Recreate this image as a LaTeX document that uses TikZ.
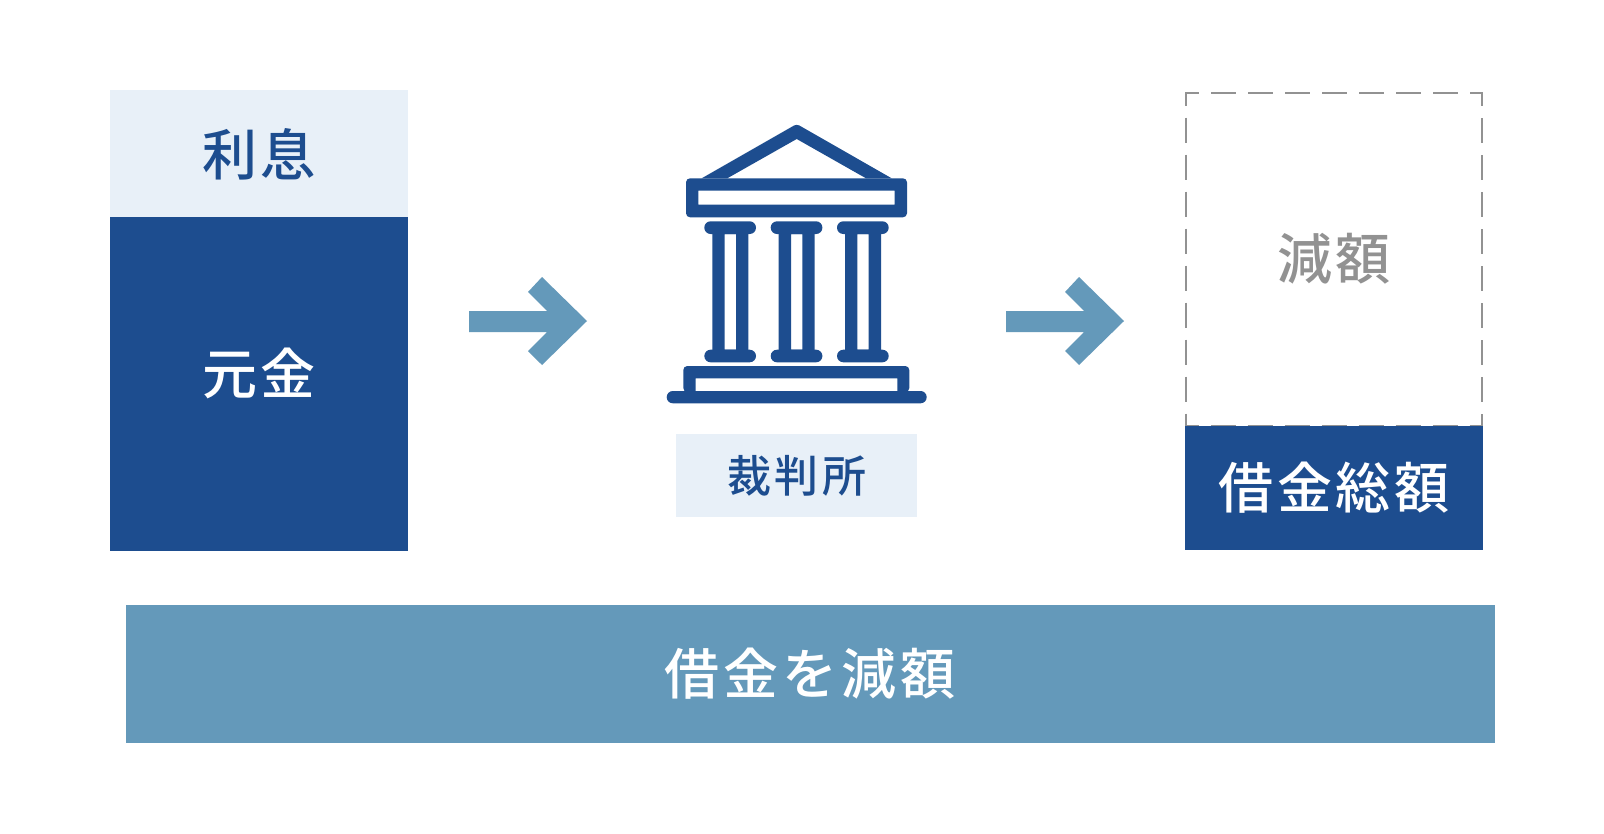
\documentclass[tikz,border=0pt]{standalone}
\usepackage{fontspec}
\setmainfont{Noto Sans CJK JP Medium}
\definecolor{navy}{HTML}{1D4D8F}
\definecolor{pale}{HTML}{E8F0F8}
\definecolor{steel}{HTML}{6499BA}
\definecolor{ash}{HTML}{929292}
\tikzset{
  box/.style={rectangle,inner sep=0pt,outer sep=0pt,anchor=north west,draw=none},
  txt/.style={inner sep=0pt,outer sep=0pt,anchor=center},
  icon/.style={fill=navy,draw=none,even odd rule},
  arrowshape/.style={fill=steel,draw=none},
}
\newcommand{\spaced}[3]{\fontsize{#1}{#1}\selectfont\addfontfeatures{LetterSpace=#2}#3}
\begin{document}
\begin{tikzpicture}[x=1pt,y=-1pt]
\useasboundingbox (0,0) rectangle (1604,833);
\fill[white] (0,0) rectangle (1604,833);
% left stack
\node[box,fill=pale,minimum width=298pt,minimum height=127pt] (interest) at (110,90) {};
\node[box,fill=navy,minimum width=298pt,minimum height=334pt] (principal) at (110,217) {};
\node[txt,text=navy] (interestT) at (259,154) {\spaced{55}{7}{利息}};
\node[txt,text=white] (principalT) at (259,373) {\spaced{55}{7}{元金}};
% arrows
\foreach \dx in {0,537}{
\begin{scope}[xshift=\dx pt]
\fill[arrowshape] (469,311) -- (547,311) -- (528,292) -- (542,277) -- (587,321) -- (542,365) -- (528,351) -- (547,332) -- (469,332) -- cycle;
\end{scope}}
% court icon: roof
\fill[icon] (701.7,178.3) [rounded corners=3pt] -- (796.7,124) [sharp corners] -- (891.7,178.3) -- (866,178.3) -- (796.7,139) -- (727.3,178.3) -- cycle;
% entablature
\fill[icon] [rounded corners=4pt] (686,178.3) rectangle (907,217.3)
  [sharp corners] (698.3,190.7) rectangle (894.7,204.7);
% columns
\foreach \dx in {0,66.4,132.7}{
\begin{scope}[xshift=\dx pt]
\fill[icon] [rounded corners=6.3pt] (704.3,221.3) rectangle (756,234);
\fill[icon] [rounded corners=6.3pt] (704.3,349.7) rectangle (756,362.3);
\fill[icon] (712.3,232) rectangle (748.3,351) (724.7,234) rectangle (736,349.7);
\end{scope}}
% base
\fill[icon] [rounded corners=4pt] (683.3,366) -- (683.3,392) -- (909.3,392) -- (909.3,366) -- cycle
  [sharp corners] (695.7,378.3) rectangle (897.3,391);
\fill[icon] [rounded corners=6.1pt] (666.7,391) rectangle (926.7,403.3);
% court label
\node[box,fill=pale,minimum width=241pt,minimum height=83pt] (court) at (676,434) {};
\node[txt,text=navy] (courtT) at (797,476) {\spaced{44}{7}{裁判所}};
% right stack
\node[box,draw=ash,line width=1.8pt,dash pattern=on 25pt off 12pt,dash phase=12.5pt,minimum width=296pt,minimum height=333pt] (reduced) at (1186,93) {};
\node[box,fill=navy,minimum width=298pt,minimum height=124pt] (total) at (1185,426) {};
\node[txt,text=ash] (reducedT) at (1334,259) {\spaced{55}{7}{減額}};
\node[txt,text=white] (totalT) at (1334,488) {\spaced{55}{7}{借金総額}};
% bottom bar
\node[box,fill=steel,minimum width=1369.5pt,minimum height=138pt] (bar) at (125.5,605) {};
\node[txt,text=white] (barT) at (810,674) {\spaced{55}{7}{借金を減額}};
\end{tikzpicture}
\end{document}
